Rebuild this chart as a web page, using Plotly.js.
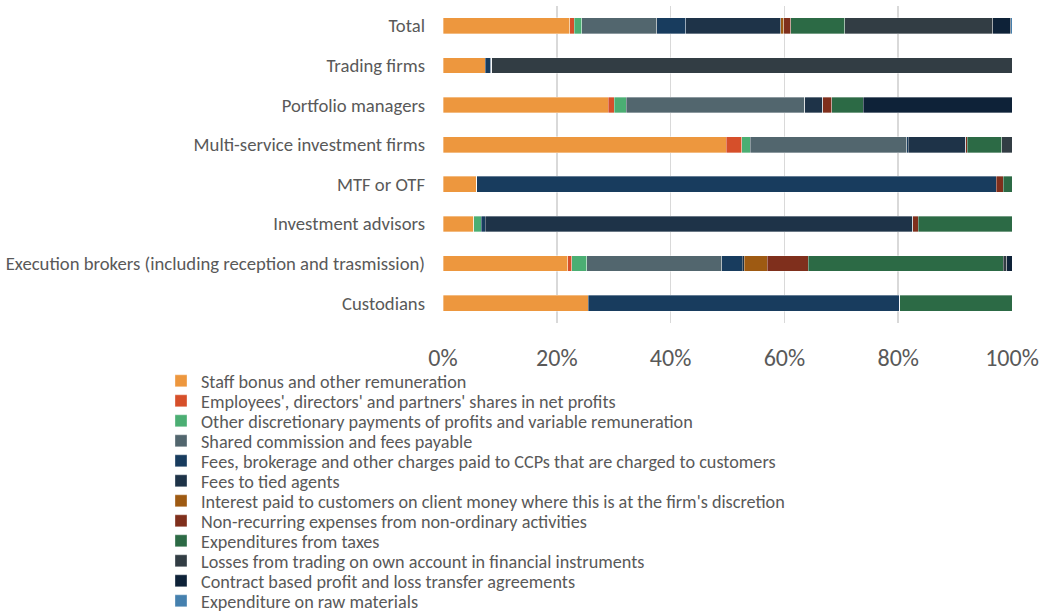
<!DOCTYPE html>
<html><head><meta charset="utf-8">
<script src="https://cdn.plot.ly/plotly-3.0.1.min.js"></script>
<style>html,body{margin:0;padding:0;background:#fff}#chart{width:1040px;height:613px}</style>
</head><body><div id="chart"></div>
<script>
const categories = ["Total","Trading firms","Portfolio managers","Multi-service investment firms","MTF or OTF","Investment advisors","Execution brokers (including reception and trasmission)","Custodians"];
const seriesNames = [
 "Staff bonus and other remuneration",
 "Employees', directors' and partners' shares in net profits",
 "Other discretionary payments of profits and variable remuneration",
 "Shared commission and fees payable",
 "Fees, brokerage and other charges paid to CCPs that are charged to customers",
 "Fees to tied agents",
 "Interest paid to customers on client money where this is at the firm's discretion",
 "Non-recurring expenses from non-ordinary activities",
 "Expenditures from taxes",
 "Losses from trading on own account in financial instruments",
 "Contract based profit and loss transfer agreements",
 "Expenditure on raw materials"
];
const seriesColors = ["#ED973E","#D64F2A","#4BAE73","#52666E","#183C5E","#1E3348","#9E5A12","#7F2F1C","#2C6A45","#323D44","#0E2238","#4580AE"];
// values in % per category (same order as categories)
const staffBonus      = [22.3, 7.4, 29.0, 49.8, 5.9, 5.4, 21.9, 25.5];
const employeesShares = [0.8, 0, 1.1, 2.7, 0, 0, 0.7, 0];
const otherDiscr      = [1.3, 0, 2.1, 1.5, 0, 1.3, 2.7, 0];
const sharedComm      = [13.2, 0, 31.4, 27.5, 0, 0, 23.7, 0];
const feesCCP         = [5.1, 1.0, 0, 0.3, 91.3, 0.7, 3.6, 54.8];
const feesTied        = [16.7, 0.2, 3.1, 10.1, 0, 75.2, 0.3, 0];
const interestPaid    = [0.5, 0, 0, 0, 0, 0, 4.1, 0];
const nonRecurring    = [1.2, 0, 1.6, 0.2, 1.3, 0.9, 7.2, 0];
const taxes           = [9.5, 0, 5.6, 6.1, 1.5, 16.5, 34.3, 19.7];
const tradingLosses   = [26.0, 91.4, 0, 1.8, 0, 0, 0.6, 0];
const contractPL      = [3.2, 0, 26.1, 0, 0, 0, 0.9, 0];
const rawMaterials    = [0.2, 0, 0, 0, 0, 0, 0, 0];
const seriesValues = [staffBonus, employeesShares, otherDiscr, sharedComm, feesCCP, feesTied, interestPaid, nonRecurring, taxes, tradingLosses, contractPL, rawMaterials];
const xTicks = [0,20,40,60,80,100];

const FONT = 'Carlito, Calibri, Lato, "Liberation Sans", sans-serif';
const W = 1040, H = 613, ML = 443, MR = 28, MT = 6, MB = 290;
const legKey = i => i === 0 ? 'legend' : 'legend' + (i + 1);

const traces = seriesNames.map((n,i)=>({
  type:'bar', orientation:'h', name:n, y:categories, x:seriesValues[i],
  legend: legKey(i),
  marker:{color:seriesColors[i], line:{color:'rgba(255,255,255,0.45)', width:0.75}},
  hoverinfo:'name+x'
}));

const layout = {
  width:W, height:H,
  margin:{l:ML, r:MR, t:MT, b:MB, autoexpand:false},
  barmode:'stack', bargap:0.6,
  paper_bgcolor:'#fff', plot_bgcolor:'#fff',
  font:{family:FONT, color:'#595959'},
  xaxis:{range:[0,100], tickvals:xTicks, ticktext:xTicks.map(v=>v+'%'), showgrid:true, gridcolor:'#D9D9D9', gridwidth:1.8,
         zeroline:false, showline:false, ticks:'', tickfont:{size:24, color:'#595959'}, ticklabelstandoff:18, fixedrange:true, automargin:false},
  yaxis:{autorange:'reversed', tickfont:{size:18.7, color:'#595959'}, ticks:'', showline:false, ticklabelstandoff:17, fixedrange:true, automargin:false},
  showlegend:true
};
const legendLeftPx = 161;
seriesNames.forEach((n,i)=>{
  const rowPx = 381 + 20*i;
  layout[legKey(i)] = {
    xref:'container', yref:'container',
    x:legendLeftPx / W, xanchor:'left',
    y:1 - rowPx / H, yanchor:'middle',
    font:{size:18.2, color:'#595959', family:FONT}, itemwidth:30,
    bgcolor:'rgba(0,0,0,0)', borderwidth:0
  };
});
Plotly.newPlot('chart', traces, layout, {displayModeBar:false, staticPlot:true});
</script></body></html>
